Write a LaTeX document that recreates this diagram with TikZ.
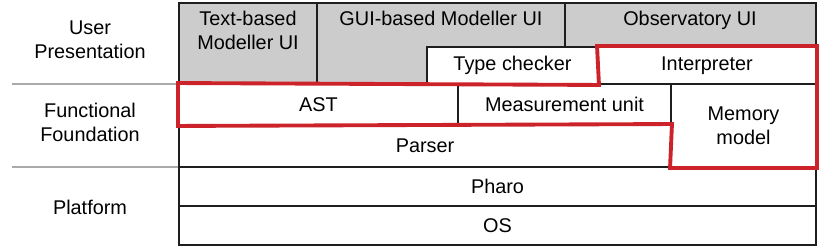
\documentclass[tikz,border=0pt]{standalone}
\usepackage{fontspec}
\setmainfont{Liberation Sans}
\usetikzlibrary{fit}
\definecolor{lineDark}{HTML}{1E1E1E}
\definecolor{uiGray}{HTML}{CCCCCC}
\definecolor{sepGray}{HTML}{AAAAAA}
\definecolor{hiRed}{HTML}{CC2229}

\begin{document}
\begin{tikzpicture}[
    x=0.02cm, y=-0.02cm,
    font=\fontsize{11.3}{13.6}\selectfont,
    box/.style={draw=lineDark, fill=white, line width=1.1pt, inner sep=0pt},
    uibox/.style={box, fill=uiGray},
    txt/.style={align=center, inner sep=0pt},
    tier/.style={align=center, inner sep=0pt},
    sep/.style={draw=sepGray, line width=0.7pt},
    hilite/.style={draw=hiRed, line width=2.2pt, line join=miter},
    every label/.style={align=center, inner sep=0pt},
  ]
    \useasboundingbox (0,0) rectangle (830,249);

    % layer names
    \node[tier] (user) at (90,40) {User\\Presentation};
    \node[tier] (func) at (90,122) {Functional\\Foundation};
    \node[tier] (plat) at (90,207) {Platform};
    \coordinate (s1a) at (12,84);  \coordinate (s1b) at (179,84);
    \coordinate (s2a) at (12,167); \coordinate (s2b) at (179,167);
    \draw[sep] (s1a) -- (s1b);
    \draw[sep] (s2a) -- (s2b);

    % User Presentation
    \node[uibox, fit={(179,3) (317,84)}] (textbg) {};
    \node[uibox, fit={(317,3) (565,84)}] (guibg) {};
    \node[uibox, fit={(565,3) (816,47)}] (obsbg) {};
    \node[txt] (textui) at (248,30) {Text-based\\Modeller UI};
    \node[txt] (guiui) at (441,18) {GUI-based Modeller UI};
    \node[txt] (obsui) at (690,20) {Observatory UI};
    \node[box, fit={(427,47) (598,84)}, label=center:Type checker] (types) {};
    \node[box, fit={(598,47) (816,84)}, label=center:Interpreter] (interp) {};

    % Functional Foundation
    \node[box, fit={(179,84) (458,125)}, label=center:AST] (ast) {};
    \node[box, fit={(458,84) (671,125)}, label=center:Measurement unit] (units) {};
    \node[box, fit={(671,84) (816,167)}, label={center:Memory\\model}] (memory) {};
    \node[box, fit={(179,125) (671,167)}, label=center:Parser] (parser) {};

    % Platform
    \node[box, fit={(179,167) (816,206)}, label=center:Pharo] (pharo) {};
    \node[box, fit={(179,206) (816,245)}, label=center:OS] (os) {};

    % highlighted part
    \draw[hilite] (ast.north west) -- (types.south east) -- (interp.north west)
      -- (interp.north east) -- (memory.south east) -- (memory.south west)
      -- (parser.north east) -- (ast.south west) -- cycle;
  \end{tikzpicture}
\end{document}
